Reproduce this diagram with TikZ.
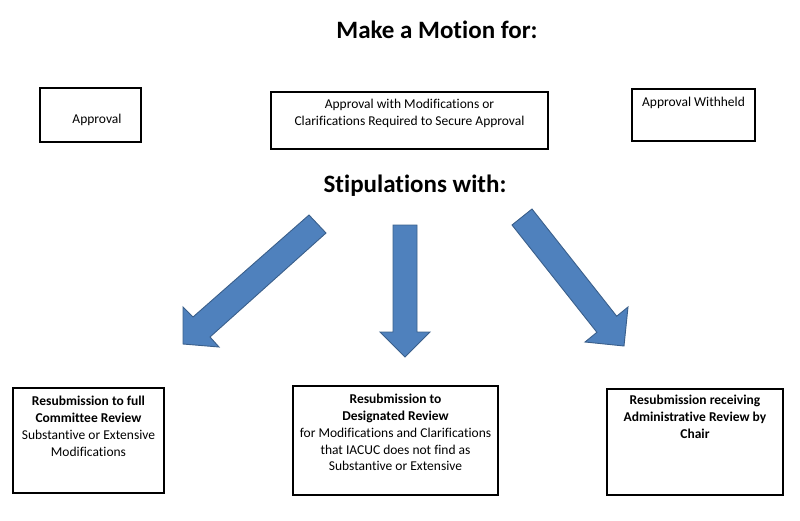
\documentclass[tikz,border=0pt]{standalone}
\usepackage{fontspec}
\setmainfont{Carlito}[Ligatures=NoCommon]
\definecolor{arrowfill}{HTML}{4F81BD}
\definecolor{arrowline}{HTML}{3A5F8B}
\begin{document}
\begin{tikzpicture}[x=1pt,y=-1pt,
  box/.style={draw=black,line width=1.6pt,inner sep=0pt},
  txt/.style={font=\fontsize{13.5}{16.8}\selectfont,align=center,inner sep=0pt},
  title/.style={font=\fontsize{25}{28}\selectfont\bfseries,inner sep=0pt},
  bigarrow/.style={fill=arrowfill,draw=arrowline,line width=0.9pt,line join=miter}]
\useasboundingbox (0,0) rectangle (800,520);
% titles
\node[title,anchor=base] (t1) at (437,38) {Make a Motion for:};
\node[title,anchor=base] (t2) at (415,192) {Stipulations with:};
% top boxes
\draw[box] (40,88) rectangle (141,142);
\node[txt,anchor=base] (b1t) at (97,123) {Approval};
\draw[box] (271,92) rectangle (548,149);
\node[txt,anchor=north] (b2t) at (409.5,99) {Approval with Modifications or\\Clarifications Required to Secure Approval};
\draw[box] (632,89) rectangle (755,141);
\node[txt,anchor=north] (b3t) at (693.5,97) {Approval Withheld};
% arrows
\draw[bigarrow] (309,215) -- (326,233) -- (210,337) -- (219,347) -- (183,344) -- (183,307) -- (193,317) -- cycle;
\draw[bigarrow] (393,225) -- (417,225) -- (417,332) -- (430,332) -- (405,357) -- (380,332) -- (393,332) -- cycle;
\draw[bigarrow] (532,209) -- (616.7,316.2) -- (628,307) -- (624,346) -- (585,342) -- (596.9,332.3) -- (512,225) -- cycle;
% bottom boxes
\draw[box] (13,388) rectangle (164,493);
\node[txt,anchor=north] (c1t) at (88.5,396) {\textbf{Resubmission to full}\\\textbf{Committee Review}\\Substantive or Extensive\\Modifications};
\draw[box] (293,386) rectangle (498,495);
\node[txt,anchor=north] (c2t) at (395.5,394) {\textbf{Resubmission to}\\\textbf{Designated Review}\\for Modifications and Clarifications\\that IACUC does not find as\\Substantive or Extensive};
\draw[box] (607,389) rectangle (783,495);
\node[txt,anchor=north] (c3t) at (695,395) {\textbf{Resubmission receiving}\\\textbf{Administrative Review by}\\\textbf{Chair}};
\end{tikzpicture}
\end{document}
